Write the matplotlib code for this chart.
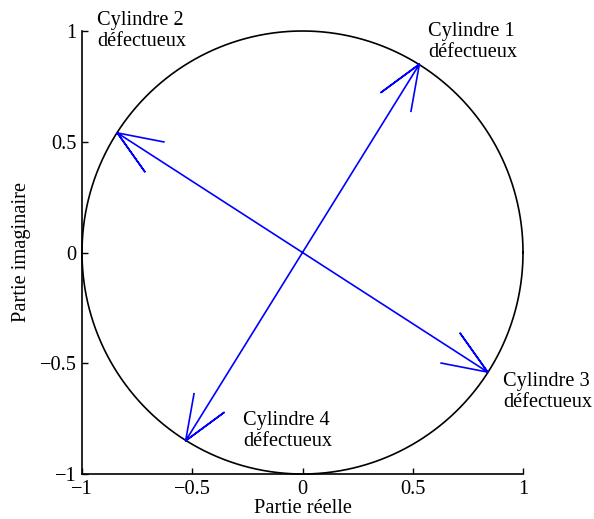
import numpy as np
import matplotlib
matplotlib.use("Agg")
import matplotlib.pyplot as plt

# Data: phasor tips (real, imaginary) for each defective cylinder
labels = ["Cylindre 1\ndéfectueux", "Cylindre 2\ndéfectueux",
          "Cylindre 3\ndéfectueux", "Cylindre 4\ndéfectueux"]
real_parts = [0.53, -0.84, 0.84, -0.53]
imag_parts = [0.85, 0.54, -0.54, -0.85]
label_x = [0.57, -0.93, 0.91, -0.27]
label_y = [0.95, 1.00, -0.63, -0.805]
ticks = [-1, -0.5, 0, 0.5, 1]
tick_labels = ["\u22121", "\u22120.5", "0", "0.5", "1"]
circle_radius = 1.0

plt.rcParams['font.family'] = ['Liberation Serif', 'DejaVu Serif']
plt.rcParams['text.kerning_factor'] = 6

FS = 14.7

fig = plt.figure(figsize=(5.94, 5.19), dpi=100)
ax = fig.add_axes([82/594, 45/519, 441/594, 443/519])

# unit circle
th = np.linspace(0, 2*np.pi, 400)
ax.plot(circle_radius*np.cos(th), circle_radius*np.sin(th), color='black',
        lw=1.2, clip_on=False)

# compass arrows (MATLAB style heads)
for re, im in zip(real_parts, imag_parts):
    z = complex(re, im)
    arrow = np.array([0, 1, 0.8, 1, 0.8]) + 1j*np.array([0, 0, 0.08, 0, -0.08])
    pts = arrow * z
    ax.plot(pts.real, pts.imag, color='#0000ff', lw=1.2, clip_on=False)

for lx, ly, t in zip(label_x, label_y, labels):
    ax.text(lx, ly, t, ha='left', va='center', fontsize=FS, linespacing=1.1,
            clip_on=False)

ax.set_xlim(-1, 1)
ax.set_ylim(-1, 1)
ax.set_xticks(ticks)
ax.set_xticklabels(tick_labels)
ax.set_yticks(ticks)
ax.set_yticklabels(tick_labels)
ax.tick_params(direction='in', length=4, width=1, labelsize=FS, pad=4)
for s in ['top', 'right']:
    ax.spines[s].set_visible(False)
for s in ['left', 'bottom']:
    ax.spines[s].set_linewidth(1.2)
ax.set_xlabel("Partie réelle", fontsize=FS, labelpad=0)
ax.set_ylabel("Partie imaginaire", fontsize=FS, labelpad=6)

fig.savefig("out.png", dpi=100)
